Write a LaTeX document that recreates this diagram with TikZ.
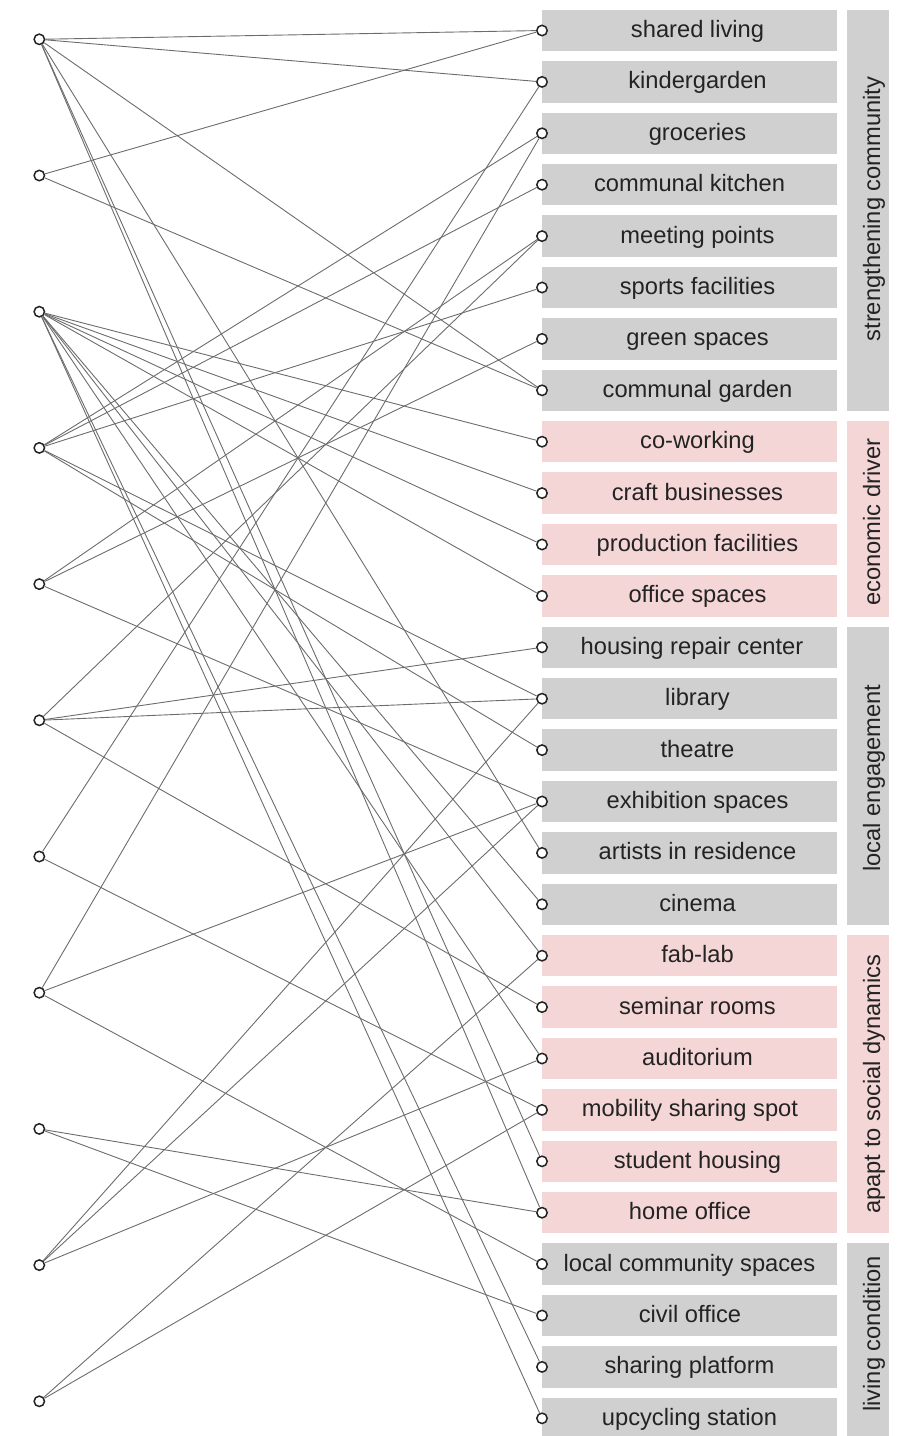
\documentclass[tikz,border=0pt]{standalone}
\usepackage{fontspec}
\setmainfont{Liberation Sans}
\definecolor{boxgray}{RGB}{208,208,209}
\definecolor{boxpink}{RGB}{245,214,214}
\definecolor{edgegray}{RGB}{108,108,108}
\definecolor{ink}{RGB}{35,35,35}
\begin{document}
\begin{tikzpicture}[x=0.5pt,y=-0.5pt,
  dot/.style={circle,draw=ink,fill=white,line width=0.75pt,minimum size=5.2pt,inner sep=0pt},
  itembox/.style={rectangle,draw=none,inner sep=0pt,minimum width=147.5pt,minimum height=20.7pt},
  groupbox/.style={rectangle,draw=none,inner sep=0pt,minimum width=20.75pt},
  itemtext/.style={inner sep=0pt,anchor=base,text=ink,font=\fontsize{11.85pt}{14pt}\selectfont},
  grouptext/.style={inner sep=0pt,anchor=base,rotate=90,text=ink,font=\fontsize{11.85pt}{14pt}\selectfont},
  edge/.style={draw=edgegray,line width=0.45pt}]
\useasboundingbox (0,0) rectangle (904,1436);
\clip (0,0) rectangle (904,1436);

% category boxes
\foreach \g/\a/\b/\c in {1/1/8/boxgray,2/9/12/boxpink,3/13/18/boxgray,4/19/24/boxpink,5/25/28/boxgray}{
  \pgfmathsetmacro{\ytop}{30.5+51.4*(\a-1)-20.7}
  \pgfmathsetmacro{\ybot}{30.5+51.4*(\b-1)+20.7}
  \pgfmathsetmacro{\ymid}{(\ytop+\ybot)/2}
  \pgfmathsetmacro{\hh}{(\ybot-\ytop)*0.5}
  \node[groupbox,fill=\c,minimum height=\hh pt] (g\g) at (867.75,\ymid) {};
}
\node[grouptext] (gl1) at (880,209) {strengthening community};
\node[grouptext] (gl2) at (880,522) {economic driver};
\node[grouptext] (gl3) at (880,778) {local engagement};
\node[grouptext] (gl4) at (880,1084) {apapt to social dynamics};
\node[grouptext] (gl5) at (880,1334) {living condition};

% item boxes, labels and their connection points
\foreach \i/\t/\c/\tx in {
  1/shared living/boxgray/697.5,
  2/kindergarden/boxgray/697.5,
  3/groceries/boxgray/697.5,
  4/communal kitchen/boxgray/689.5,
  5/meeting points/boxgray/697.5,
  6/sports facilities/boxgray/697.5,
  7/green spaces/boxgray/697.5,
  8/communal garden/boxgray/697.5,
  9/co-working/boxpink/697.5,
  10/craft businesses/boxpink/697.5,
  11/production facilities/boxpink/697.5,
  12/office spaces/boxpink/697.5,
  13/housing repair center/boxgray/692,
  14/library/boxgray/697.5,
  15/theatre/boxgray/697.5,
  16/exhibition spaces/boxgray/697.5,
  17/artists in residence/boxgray/697.5,
  18/cinema/boxgray/697.5,
  19/fab-lab/boxpink/697.5,
  20/seminar rooms/boxpink/697.5,
  21/auditorium/boxpink/697.5,
  22/mobility sharing spot/boxpink/690,
  23/student housing/boxpink/697.5,
  24/home office/boxpink/690,
  25/local community spaces/boxgray/689.5,
  26/civil office/boxgray/690,
  27/sharing platform/boxgray/689.5,
  28/upcycling station/boxgray/689.5}{
  \pgfmathsetmacro{\yy}{30.5+51.4*(\i-1)}
  \node[itembox,fill=\c] (b\i) at (689.5,\yy) {};
  \node[itemtext] (t\i) at (\tx,\yy+7) {\t};
  \node[dot] (r\i) at (542,\yy) {};
}

% source points on the left
\foreach \j in {1,...,11}{
  \pgfmathsetmacro{\yy}{39.3+136.2*(\j-1)}
  \node[dot] (l\j) at (39.3,\yy) {};
}

% connectors
\foreach \a/\b in {
  1/1,1/2,1/8,1/17,1/23,1/24,
  2/1,2/8,
  3/9,3/10,3/11,3/12,3/18,3/19,3/21,3/27,3/28,
  4/3,4/4,4/6,4/14,4/15,
  5/5,5/7,5/16,
  6/5,6/13,6/14,6/20,
  7/2,7/22,
  8/3,8/16,8/25,
  9/24,9/26,
  10/14,10/16,10/21,
  11/19,11/22}{
  \draw[edge] (l\a) -- (r\b);
}
\end{tikzpicture}
\end{document}
